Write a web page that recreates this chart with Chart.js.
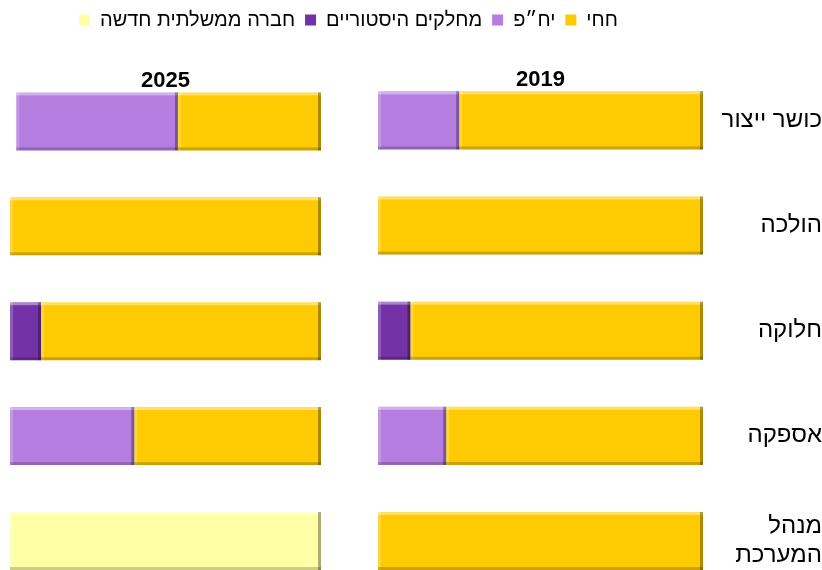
<!DOCTYPE html>
<html lang="he">
<head>
<meta charset="UTF-8">
<title>מבנה משק החשמל 2019 / 2025</title>
<script src="https://cdn.jsdelivr.net/npm/chart.js"></script>
<style>
  body { margin: 0; background: #fff; overflow: hidden; }
  #wrap { position: relative; width: 822px; height: 570px; }
  #wrap canvas { position: absolute; top: 0; left: 0; }
  #c2025 { pointer-events: none; }
</style>
</head>
<body>
<div id="wrap">
  <canvas id="c2019" width="822" height="570"></canvas>
  <canvas id="c2025" width="340" height="570"></canvas>
</div>

<script>
  // segments
  const categories = ['כושר ייצור', 'הולכה', 'חלוקה', 'אספקה', ['מנהל', 'המערכת']];
  const seriesNames = ['חחי', 'יח״פ', 'מחלקים היסטוריים', 'חברה ממשלתית חדשה'];
  const seriesColors = ['#FECB02', '#B47EE0', '#7332A6', '#FFFFA6'];
  const yearTitles = ['2019', '2025'];

  // 2019 (% of segment)
  const iec2019 = [75, 100, 90, 79, 100];
  const ipp2019 = [25, 0, 0, 21, 0];
  const hist2019 = [0, 0, 10, 0, 0];
  const newGov2019 = [0, 0, 0, 0, 0];

  // 2025
  const iec2025 = [46, 100, 90, 60, 0];
  const ipp2025 = [52, 0, 0, 40, 0];
  const hist2025 = [0, 0, 10, 0, 0];
  const newGov2025 = [0, 0, 0, 0, 100];

  const font = 'Liberation Sans, Arial, sans-serif';

  // light top/left edge, dark bottom/right edge like the office bevel
  const bevel = {
    id: 'bevel',
    afterDatasetsDraw(chart) {
      const ctx = chart.ctx;
      chart.data.datasets.forEach((ds, i) => {
        chart.getDatasetMeta(i).data.forEach(bar => {
          const p = bar.getProps(['x', 'y', 'base', 'height'], true);
          const l = Math.min(p.x, p.base), r = Math.max(p.x, p.base);
          const t = p.y - p.height / 2, b = p.y + p.height / 2;
          if (r - l < 1) return;
          ctx.save();
          ctx.fillStyle = 'rgba(255,255,255,0.4)';
          ctx.fillRect(l, t, r - l, 3);
          ctx.fillStyle = 'rgba(255,255,255,0.2)';
          ctx.fillRect(l, t, 3, b - t);
          ctx.fillStyle = 'rgba(0,0,0,0.2)';
          ctx.fillRect(l, b - 3, r - l, 3);
          ctx.fillStyle = 'rgba(0,0,0,0.32)';
          ctx.fillRect(r - 3, t, 3, b - t);
          ctx.restore();
        });
      });
    }
  };

  function makeDatasets(series) {
    return series.map((data, i) => ({
      label: seriesNames[i],
      data: data,
      backgroundColor: seriesColors[i],
      borderWidth: 0,
      barPercentage: 0.553,
      categoryPercentage: 1,
      clip: false
    }));
  }

  function baseOptions(title, titleTop) {
    return {
      responsive: false,
      animation: false,
      indexAxis: 'y',
      plugins: {
        tooltip: { enabled: false },
        title: {
          display: true,
          text: title,
          fullSize: false,
          weight: 500,
          color: '#000',
          font: { family: font, size: 22, weight: 'bold' },
          padding: { top: titleTop, bottom: 27 }
        }
      }
    };
  }

  // 2019 chart (right side), carries legend and segment labels
  const opts2019 = baseOptions(yearTitles[0], 27);
  opts2019.layout = { padding: { left: 69, right: 0, top: 0, bottom: 29 } };
  opts2019.plugins.legend = {
    display: true,
    reverse: true,
    align: 'start',
    labels: {
      boxWidth: 11,
      boxHeight: 11,
      padding: 10,
      color: '#000',
      font: { family: font, size: 20, lineHeight: 1 }
    }
  };
  opts2019.scales = {
    x: { stacked: true, reverse: true, min: 0, max: 100, display: false },
    y: {
      stacked: true,
      position: 'right',
      offset: false,
      grid: { display: false, drawTicks: false },
      border: { display: false },
      ticks: { crossAlign: 'far', padding: 3, color: '#000', font: { family: font, size: 24 } },
      afterFit: s => { s.width = 119; }
    },
    pad: {
      type: 'linear', axis: 'y', position: 'left',
      grid: { display: false }, border: { display: false }, ticks: { display: false },
      afterFit: s => { s.width = 309; }
    }
  };

  new Chart(document.getElementById('c2019'), {
    type: 'bar',
    data: { labels: categories, datasets: makeDatasets([iec2019, ipp2019, hist2019, newGov2019]) },
    options: opts2019,
    plugins: [bevel]
  });

  // 2025 chart (left side)
  const opts2025 = baseOptions(yearTitles[1], 68);
  opts2025.layout = { padding: { left: 10, right: 19, top: 0, bottom: 29 } };
  opts2025.plugins.legend = { display: false };
  opts2025.scales = {
    x: { stacked: true, reverse: true, min: 0, max: 100, display: false },
    y: { stacked: true, offset: false, display: false }
  };

  new Chart(document.getElementById('c2025'), {
    type: 'bar',
    data: { labels: categories, datasets: makeDatasets([iec2025, ipp2025, hist2025, newGov2025]) },
    options: opts2025,
    plugins: [bevel]
  });
</script>
</body>
</html>
